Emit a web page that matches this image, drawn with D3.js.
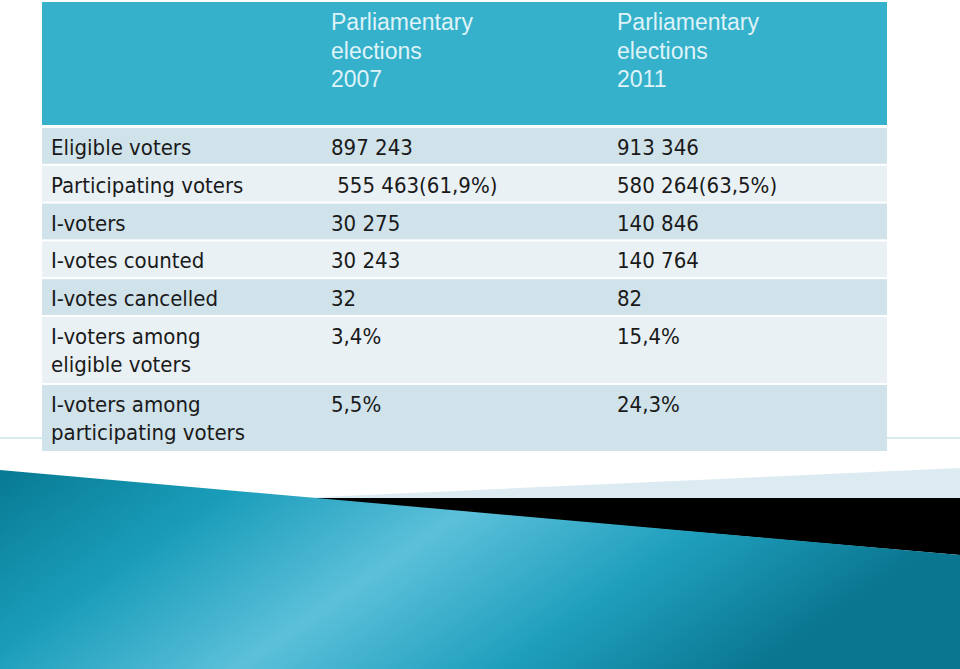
<!DOCTYPE html><html><head><meta charset="utf-8"><script src="https://cdn.jsdelivr.net/npm/d3@7"></script>
<style>body{margin:0;background:#fff}</style></head><body><svg id="c" width="960" height="669"></svg><script>
const headers = ["", "Parliamentary\nelections\n2007", "Parliamentary\nelections\n2011"];
const rowLabels = ["Eligible voters","Participating voters","I-voters","I-votes counted","I-votes cancelled","I-voters among\neligible voters","I-voters among\nparticipating voters"];
const values2007 = ["897 243"," 555 463(61,9%)","30 275","30 243","32","3,4%","5,5%"];
const values2011 = ["913 346","580 264(63,5%)","140 846","140 764","82","15,4%","24,3%"];
const rowHeights = [1,1,1,1,1,1.8,1.8];

const svg = d3.select("#c");
const defs = svg.append("defs");
const g = defs.append("linearGradient").attr("id","bg").attr("x1","0").attr("x2","1").attr("y1","0").attr("y2","0.3");
[[0,"#087a93"],[0.25,"#1a9dba"],[0.5,"#5cc0da"],[0.75,"#1f9fbd"],[1,"#0a7690"]].forEach(([o,c])=>g.append("stop").attr("offset",o).attr("stop-color",c));

// decorative lines
svg.append("line").attr("x1",0).attr("x2",42).attr("y1",438).attr("y2",438).attr("stroke","#a8d6e0");
svg.append("line").attr("x1",887).attr("x2",960).attr("y1",438).attr("y2",438).attr("stroke","#a8d6e0");
// bottom shapes
svg.append("polygon").attr("points","300,498 960,468 960,498").attr("fill","#dcebf1");
svg.append("polygon").attr("points","300,498 960,498 960,555").attr("fill","#000");
svg.append("polygon").attr("points","0,470 960,555 960,669 0,669").attr("fill","url(#bg)");

const colX = d3.scaleOrdinal().domain([0,1,2]).range([42,320,606]);
const colW = [278,286,281];
const headerTop = 2, headerH = 123, bodyTop = 127, unit = 37.6;
const cum = [0]; rowHeights.forEach(h=>cum.push(cum[cum.length-1]+h));
const y = d3.scaleLinear().domain([0,cum[cum.length-1]]).range([bodyTop,452]);

headers.forEach((h,i)=>{
  svg.append("rect").attr("x",colX(i)).attr("y",headerTop).attr("width",colW[i]).attr("height",headerH).attr("fill","#35b1cb");
  h.split("\n").forEach((t,k)=>svg.append("text").attr("x",colX(i)+11).attr("y",headerTop+28+k*28.5)
    .attr("font-family","Liberation Sans, Arial").attr("font-size",23).attr("fill","#dff3f8").text(t));
});
const cols=[rowLabels,values2007,values2011];
rowLabels.forEach((_,r)=>{
  const y0=y(cum[r]), y1=y(cum[r+1]);
  cols.forEach((arr,i)=>{
    svg.append("rect").attr("x",colX(i)).attr("y",y0+1).attr("width",colW[i]).attr("height",y1-y0-2)
      .attr("fill", r%2==0?"#d1e3ea":"#e9f1f5");
    arr[r].split("\n").forEach((t,k)=>svg.append("text").attr("x",colX(i)+(i==0?9:11)).attr("y",y0+28+k*28)
      .attr("font-family","DejaVu Sans Condensed, DejaVu Sans").attr("font-size",22).attr("fill","#1a1a1a").attr("xml:space","preserve").text(t));
  });
});
</script></body></html>
